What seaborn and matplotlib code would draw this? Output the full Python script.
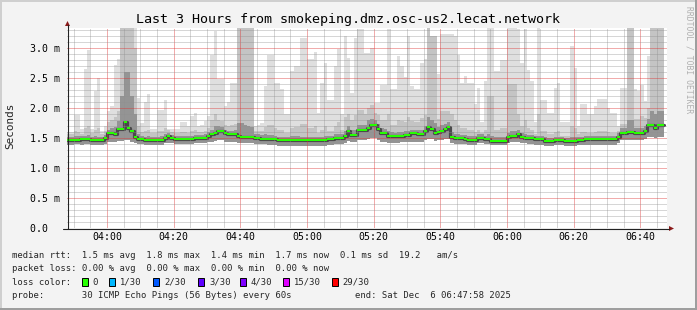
import numpy as np
import pandas as pd
import matplotlib
matplotlib.use("Agg")
import matplotlib.pyplot as plt
import seaborn as sns
from matplotlib.patches import Rectangle, Polygon
from matplotlib.lines import Line2D

W, H = 697, 310

# ---- data: one value per 60 s step, starting 03:47:58 ----
median = [
    1.47, 1.47, 1.47, 1.47, 1.48, 1.48, 1.48, 1.47, 1.47, 1.46,
    1.46, 1.50, 1.58, 1.58, 1.57, 1.65, 1.65, 1.77, 1.67, 1.61,
    1.52, 1.49, 1.48, 1.47, 1.47, 1.47, 1.47, 1.46, 1.47, 1.50,
    1.53, 1.50, 1.48, 1.48, 1.48, 1.48, 1.48, 1.48, 1.50, 1.50,
    1.50, 1.50, 1.54, 1.56, 1.59, 1.62, 1.62, 1.58, 1.56, 1.56,
    1.56, 1.54, 1.51, 1.51, 1.51, 1.51, 1.50, 1.50, 1.49, 1.49,
    1.48, 1.48, 1.48, 1.47, 1.47, 1.47, 1.47, 1.47, 1.47, 1.47,
    1.46, 1.46, 1.46, 1.46, 1.47, 1.47, 1.47, 1.47, 1.48, 1.48,
    1.50, 1.50, 1.50, 1.54, 1.61, 1.55, 1.55, 1.63, 1.63, 1.63,
    1.67, 1.72, 1.72, 1.65, 1.58, 1.58, 1.53, 1.53, 1.53, 1.53,
    1.54, 1.55, 1.55, 1.58, 1.58, 1.57, 1.57, 1.62, 1.69, 1.65,
    1.59, 1.60, 1.62, 1.65, 1.68, 1.52, 1.50, 1.50, 1.50, 1.49,
    1.47, 1.47, 1.47, 1.50, 1.50, 1.48, 1.48, 1.45, 1.45, 1.45,
    1.45, 1.45, 1.51, 1.54, 1.54, 1.57, 1.51, 1.50, 1.50, 1.50,
    1.48, 1.48, 1.48, 1.45, 1.45, 1.45, 1.46, 1.46, 1.46, 1.45,
    1.45, 1.45, 1.45, 1.46, 1.46, 1.48, 1.48, 1.48, 1.48, 1.48,
    1.48, 1.48, 1.48, 1.48, 1.48, 1.52, 1.59, 1.59, 1.60, 1.60,
    1.58, 1.58, 1.58, 1.62, 1.72, 1.72, 1.67, 1.72, 1.72,
]
smoke_max = [
    1.60, 1.60, 1.88, 1.88, 1.65, 2.65, 2.97, 1.65, 2.28, 2.50,
    1.62, 1.70, 1.95, 2.04, 2.71, 2.81, 3.40, 3.40, 3.40, 3.40,
    3.40, 2.17, 1.75, 2.10, 2.23, 1.65, 1.65, 1.97, 1.97, 2.14,
    1.65, 1.65, 1.65, 1.65, 1.76, 1.77, 1.70, 1.87, 1.92, 1.70,
    1.72, 1.78, 1.87, 2.89, 3.28, 2.48, 2.48, 2.03, 2.10, 2.41,
    2.41, 3.40, 3.40, 3.40, 3.40, 3.40, 1.70, 1.72, 1.75, 2.37,
    2.89, 2.89, 2.42, 2.42, 2.31, 1.90, 1.90, 2.62, 2.70, 2.70,
    3.17, 3.17, 2.81, 2.81, 2.93, 1.92, 2.42, 2.75, 2.14, 2.14,
    2.70, 2.99, 1.90, 3.20, 2.84, 2.25, 3.17, 3.31, 3.31, 2.92,
    2.92, 3.00, 2.09, 2.09, 2.38, 2.38, 3.31, 2.31, 2.31, 2.87,
    2.70, 2.51, 3.20, 2.37, 2.31, 2.31, 2.75, 2.81, 3.40, 3.20,
    3.20, 2.56, 3.23, 3.23, 3.23, 3.23, 3.20, 2.89, 2.42, 2.53,
    2.42, 2.42, 2.06, 2.34, 1.76, 2.45, 3.40, 3.40, 2.62, 2.62,
    2.80, 2.80, 3.40, 3.40, 3.40, 3.31, 2.75, 3.31, 2.64, 2.45,
    1.76, 3.40, 2.14, 2.14, 1.92, 1.92, 2.34, 2.42, 1.76, 1.76,
    1.76, 3.03, 2.67, 1.70, 2.06, 2.06, 1.90, 1.90, 2.04, 2.15,
    2.15, 2.15, 2.00, 1.92, 1.92, 1.70, 2.34, 2.34, 3.40, 3.40,
    2.31, 2.28, 2.39, 2.12, 2.87, 3.40, 3.40, 3.40, 3.40,
]
smoke_mid = [
    1.56, 1.56, 1.62, 1.60, 1.56, 1.66, 1.70, 1.58, 1.64, 1.66,
    1.56, 1.62, 1.76, 1.80, 1.85, 1.95, 3.40, 3.40, 3.40, 3.40,
    3.00, 1.70, 1.60, 1.62, 1.64, 1.58, 1.58, 1.62, 1.62, 1.66,
    1.64, 1.60, 1.58, 1.58, 1.60, 1.60, 1.58, 1.62, 1.64, 1.60,
    1.60, 1.62, 1.66, 1.80, 1.90, 1.80, 1.78, 1.72, 1.70, 1.72,
    1.74, 3.40, 3.40, 3.40, 3.40, 3.40, 1.62, 1.62, 1.62, 1.68,
    1.72, 1.72, 1.66, 1.64, 1.64, 1.58, 1.58, 1.66, 1.68, 1.68,
    1.74, 1.74, 1.66, 1.66, 1.70, 1.58, 1.64, 1.70, 1.62, 1.62,
    1.70, 1.76, 1.64, 1.85, 1.90, 1.80, 1.88, 1.96, 1.96, 1.90,
    2.00, 2.05, 1.92, 1.88, 1.80, 1.80, 1.90, 1.72, 1.72, 1.80,
    1.78, 1.76, 1.85, 1.78, 1.76, 1.76, 1.84, 1.88, 3.40, 3.20,
    3.20, 1.82, 1.95, 1.95, 1.95, 1.90, 1.80, 1.72, 1.66, 1.66,
    1.64, 1.64, 1.60, 1.64, 1.58, 1.64, 2.20, 2.20, 1.64, 1.64,
    1.66, 1.66, 2.40, 2.40, 2.40, 1.90, 1.70, 1.80, 1.66, 1.64,
    1.56, 1.90, 1.62, 1.62, 1.56, 1.56, 1.60, 1.62, 1.54, 1.54,
    1.54, 1.70, 1.66, 1.56, 1.60, 1.60, 1.58, 1.58, 1.60, 1.62,
    1.62, 1.62, 1.60, 1.58, 1.58, 1.62, 1.74, 1.74, 3.40, 3.40,
    1.82, 1.82, 1.86, 1.84, 2.00, 3.40, 3.40, 3.40, 3.40,
]
smoke_dark = [
    1.52, 1.52, 1.53, 1.53, 1.53, 1.54, 1.55, 1.52, 1.53, 1.52,
    1.51, 1.55, 1.64, 1.66, 1.68, 1.78, 2.20, 2.60, 2.60, 2.20,
    1.90, 1.56, 1.53, 1.52, 1.53, 1.52, 1.52, 1.52, 1.53, 1.56,
    1.58, 1.55, 1.53, 1.53, 1.53, 1.53, 1.53, 1.53, 1.55, 1.55,
    1.55, 1.56, 1.60, 1.64, 1.70, 1.70, 1.68, 1.64, 1.62, 1.62,
    1.63, 1.75, 1.75, 1.72, 1.70, 1.68, 1.56, 1.56, 1.55, 1.56,
    1.55, 1.55, 1.54, 1.52, 1.52, 1.52, 1.52, 1.53, 1.53, 1.53,
    1.52, 1.52, 1.51, 1.51, 1.52, 1.52, 1.52, 1.53, 1.53, 1.53,
    1.56, 1.57, 1.56, 1.62, 1.70, 1.64, 1.64, 1.72, 1.72, 1.72,
    1.80, 1.82, 1.80, 1.74, 1.66, 1.65, 1.62, 1.60, 1.59, 1.60,
    1.60, 1.61, 1.62, 1.64, 1.64, 1.63, 1.64, 1.70, 1.85, 1.80,
    1.75, 1.68, 1.72, 1.74, 1.76, 1.60, 1.56, 1.56, 1.55, 1.55,
    1.53, 1.53, 1.53, 1.56, 1.56, 1.54, 1.56, 1.54, 1.51, 1.51,
    1.51, 1.52, 1.58, 1.62, 1.62, 1.64, 1.58, 1.56, 1.55, 1.55,
    1.53, 1.54, 1.53, 1.51, 1.50, 1.50, 1.51, 1.51, 1.51, 1.50,
    1.50, 1.51, 1.51, 1.51, 1.51, 1.53, 1.53, 1.53, 1.53, 1.53,
    1.53, 1.53, 1.53, 1.53, 1.53, 1.58, 1.66, 1.66, 1.80, 1.80,
    1.66, 1.66, 1.66, 1.70, 1.82, 1.95, 1.90, 1.95, 1.95,
]
smoke_lo = [
    1.39, 1.39, 1.40, 1.40, 1.39, 1.40, 1.40, 1.39, 1.39, 1.38,
    1.38, 1.40, 1.43, 1.44, 1.44, 1.45, 1.45, 1.47, 1.46, 1.44,
    1.42, 1.40, 1.40, 1.39, 1.39, 1.39, 1.39, 1.38, 1.39, 1.41,
    1.42, 1.41, 1.40, 1.40, 1.40, 1.40, 1.40, 1.40, 1.41, 1.41,
    1.41, 1.41, 1.43, 1.44, 1.45, 1.47, 1.46, 1.44, 1.43, 1.43,
    1.43, 1.42, 1.41, 1.41, 1.41, 1.41, 1.40, 1.40, 1.40, 1.40,
    1.39, 1.38, 1.38, 1.37, 1.37, 1.37, 1.37, 1.37, 1.37, 1.37,
    1.36, 1.36, 1.36, 1.36, 1.37, 1.37, 1.37, 1.37, 1.38, 1.38,
    1.40, 1.40, 1.40, 1.42, 1.45, 1.43, 1.43, 1.46, 1.46, 1.46,
    1.48, 1.50, 1.50, 1.47, 1.44, 1.44, 1.42, 1.42, 1.42, 1.42,
    1.43, 1.43, 1.43, 1.44, 1.44, 1.44, 1.44, 1.46, 1.49, 1.48,
    1.45, 1.46, 1.47, 1.48, 1.49, 1.42, 1.40, 1.40, 1.40, 1.40,
    1.39, 1.39, 1.39, 1.41, 1.41, 1.40, 1.40, 1.38, 1.38, 1.38,
    1.38, 1.38, 1.41, 1.43, 1.43, 1.44, 1.41, 1.41, 1.40, 1.40,
    1.39, 1.39, 1.39, 1.37, 1.37, 1.37, 1.38, 1.38, 1.38, 1.37,
    1.37, 1.37, 1.37, 1.38, 1.38, 1.39, 1.39, 1.39, 1.39, 1.39,
    1.39, 1.39, 1.39, 1.39, 1.39, 1.42, 1.46, 1.46, 1.47, 1.47,
    1.46, 1.46, 1.46, 1.48, 1.52, 1.52, 1.50, 1.52, 1.52,
]

x_tick_labels = ["04:00", "04:20", "04:40", "05:00", "05:20", "05:40", "06:00", "06:20", "06:40"]
y_ticks = [0.0, 0.5, 1.0, 1.5, 2.0, 2.5, 3.0]
y_tick_labels = ["0.0  ", "0.5 m", "1.0 m", "1.5 m", "2.0 m", "2.5 m", "3.0 m"]

loss_labels = ["0", "1/30", "2/30", "3/30", "4/30", "15/30", "29/30"]
loss_colors = ["#26ff00", "#00b8ff", "#0059ff", "#5e00ff", "#7e00ff", "#dd00ff", "#ff0000"]

title = "Last 3 Hours from smokeping.dmz.osc-us2.lecat.network"
legend_rtt = "median rtt:  1.5 ms avg  1.8 ms max  1.4 ms min  1.7 ms now  0.1 ms sd  19.2   am/s"
legend_loss = "packet loss: 0.00 % avg  0.00 % max  0.00 % min  0.00 % now"
legend_probe = "probe:       30 ICMP Echo Pings (56 Bytes) every 60s"
legend_end = "end: Sat Dec  6 06:47:58 2025"

# ---- style ----
sns.set_style("white")
plt.rcParams["font.family"] = ["DejaVu Sans Mono"]
MONO = "DejaVu Sans Mono"

n = len(median)
df = pd.DataFrame({
    "t": np.arange(n + 1),
    "median": median + [median[-1]],
    "max": smoke_max + [smoke_max[-1]],
    "mid": smoke_mid + [smoke_mid[-1]],
    "dark": smoke_dark + [smoke_dark[-1]],
    "lo": smoke_lo + [smoke_lo[-1]],
})

fig = plt.figure(figsize=(W / 100, H / 100), dpi=100)
fig.patch.set_facecolor("#f3f3f3")

def fx(x):
    return x / W

def fy(y):
    return 1 - y / H

L, T, R, B = 67, 28, 667, 228
ax = fig.add_axes([fx(L), fy(B), (R - L) / W, (B - T) / H])
ax.set_facecolor("white")

t = df["t"].to_numpy()
ax.fill_between(t, df["lo"], df["max"], step="post", color="#dfdfdf", lw=0, zorder=1)
ax.fill_between(t, df["lo"], df["mid"], step="post", color="#c4c4c4", lw=0, zorder=1.1)
ax.fill_between(t, df["lo"], df["dark"], step="post", color="#949494", lw=0, zorder=1.2)
sns.lineplot(data=df, x="t", y="median", ax=ax, color="#4a4a4a", lw=2.3,
             drawstyle="steps-post", zorder=1.5, legend=False)
band = 1.0 / 60.0
ax.fill_between(t, df["median"] - band, df["median"] + band, step="post",
                color="#26ff00", lw=0, zorder=3)

minutes_to_first = 12 + 2 / 60.0  # 03:47:58 -> 04:00:00
ax.set_xlim(0, 180)
ax.set_ylim(0, 200 / 60.0)
major_x = [minutes_to_first + 20 * k for k in range(len(x_tick_labels))]
minor_x = [minutes_to_first - 10 + 5 * k for k in range(36) if 0 < minutes_to_first - 10 + 5 * k < 180]
ax.set_xticks(major_x)
ax.set_xticklabels(x_tick_labels)
ax.set_xticks(minor_x, minor=True)
ax.set_yticks(y_ticks)
ax.set_yticklabels(y_tick_labels)
ax.set_yticks(np.arange(0.1, 3.34, 0.1), minor=True)

ax.set_axisbelow(False)
ax.grid(which="minor", color="#8f8f8f", alpha=0.36, linestyle=(0, (1, 1)), lw=0.72,
        antialiased=False, zorder=2)
ax.grid(which="major", color="#de3030", alpha=0.40, linestyle=(0, (1, 1)), lw=0.72,
        antialiased=False, zorder=2)

ax.tick_params(axis="x", which="both", length=0, pad=2.6, labelsize=7.1, labelcolor="#000000")
ax.tick_params(axis="y", which="both", length=0, pad=5.0, labelsize=7.1, labelcolor="#000000")
for lab in ax.get_xticklabels() + ax.get_yticklabels():
    lab.set_fontfamily(MONO)
for s in ax.spines.values():
    s.set_visible(False)
ax.set_xlabel("")
ax.set_ylabel("")

# axes lines and arrows (figure pixel coordinates)
fig.add_artist(Line2D([fx(67.5), fx(67.5)], [fy(228.5), fy(25)], color="#222222", lw=0.8))
fig.add_artist(Line2D([fx(63), fx(669)], [fy(228.5), fy(228.5)], color="#222222", lw=0.8))
fig.add_artist(Polygon([(fx(65), fy(26)), (fx(70), fy(26)), (fx(67.5), fy(21))],
                       closed=True, color="#8b1a1a", lw=0, transform=fig.transFigure))
fig.add_artist(Polygon([(fx(669), fy(226)), (fx(669), fy(231)), (fx(674), fy(228.5))],
                       closed=True, color="#8b1a1a", lw=0, transform=fig.transFigure))

# 3D-ish border
fig.add_artist(Rectangle((0, fy(2)), 1, 2 / H, color="#cfcfcf", lw=0, transform=fig.transFigure))
fig.add_artist(Rectangle((0, 0), 2 / W, 1, color="#cfcfcf", lw=0, transform=fig.transFigure))
fig.add_artist(Rectangle((0, 0), 1, 2 / H, color="#9e9e9e", lw=0, transform=fig.transFigure))
fig.add_artist(Rectangle((fx(695), 0), 2 / W, 1, color="#9e9e9e", lw=0, transform=fig.transFigure))

# texts
fig.text(fx(348), fy(19.5), title, ha="center", va="center", fontsize=9.6, family=MONO, color="#000000")
fig.text(fx(10.5), fy(126), "Seconds", ha="center", va="center", rotation=90, fontsize=7.9, family=MONO)
fig.text(fx(689), fy(6), "RRDTOOL / TOBI OETIKER", ha="center", va="top", rotation=270,
         fontsize=5.8, family=MONO, color="#b0b0b0")

LEG_FS = 6.37
fig.text(fx(11.7), fy(255), legend_rtt, ha="left", va="center", fontsize=LEG_FS, family=MONO)
fig.text(fx(11.7), fy(268.5), legend_loss, ha="left", va="center", fontsize=LEG_FS, family=MONO)
fig.text(fx(11.7), fy(282.3), "loss color:", ha="left", va="center", fontsize=LEG_FS, family=MONO)
box_x = [81.7, 109.3, 153.3, 198.3, 240.0, 283.3, 331.7]
for bx, lab, col in zip(box_x, loss_labels, loss_colors):
    fig.add_artist(Rectangle((fx(bx), fy(286.3)), 6 / W, 8 / H, facecolor=col,
                             edgecolor="#000000", lw=0.7, transform=fig.transFigure))
    fig.text(fx(bx + 10.8), fy(282.3), lab, ha="left", va="center", fontsize=LEG_FS, family=MONO)
fig.text(fx(11.7), fy(296), legend_probe, ha="left", va="center", fontsize=LEG_FS, family=MONO)
fig.text(fx(511), fy(296), legend_end, ha="right", va="center", fontsize=LEG_FS, family=MONO)

fig.savefig("out.png", dpi=100, facecolor=fig.get_facecolor())
